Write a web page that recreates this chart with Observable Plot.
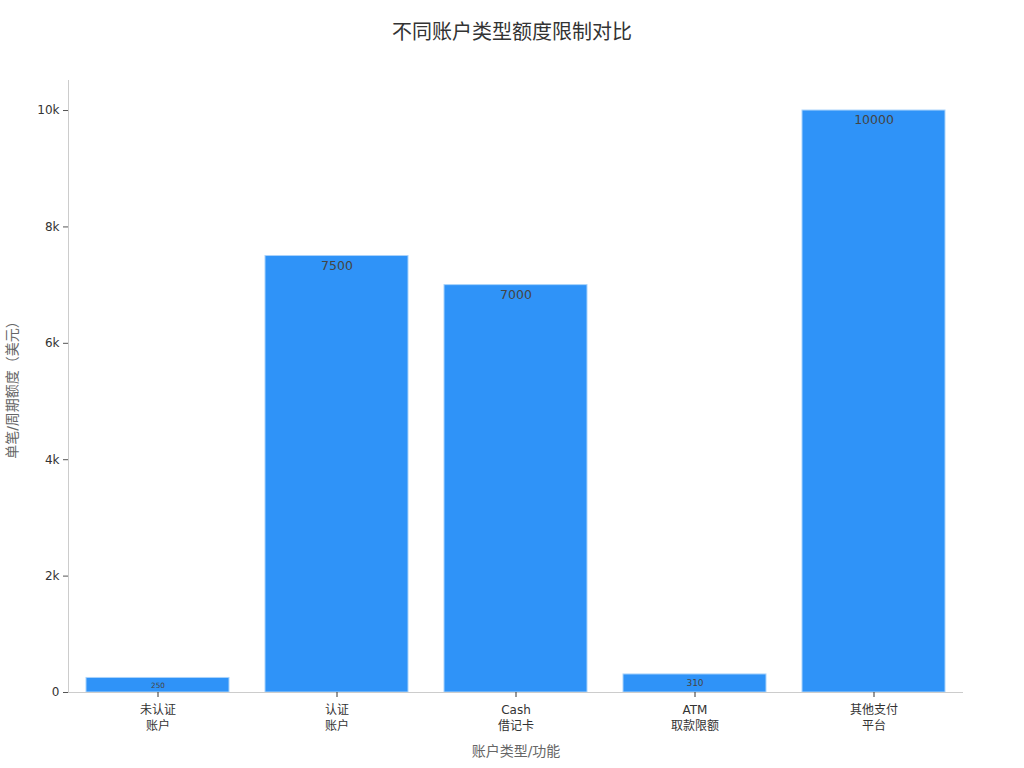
<!DOCTYPE html>
<html>
<head>
<meta charset="utf-8">
<script src="https://cdn.jsdelivr.net/npm/d3@7"></script>
<script src="https://cdn.jsdelivr.net/npm/@observablehq/plot@0.6"></script>
<style>
  html, body { margin: 0; padding: 0; background: #fff; }
  body { width: 1024px; height: 768px; overflow: hidden; font-family: "DejaVu Sans", "Noto Sans CJK SC", sans-serif; }
  #title { height: 61px; line-height: 64px; text-align: center; font-size: 20px; color: #333; font-family: "DejaVu Sans", "Noto Sans CJK SC", sans-serif; }
</style>
</head>
<body>
<div id="title">不同账户类型额度限制对比</div>
<div id="chart"></div>
<script>
const categories = ["未认证\n账户", "认证\n账户", "Cash\n借记卡", "ATM\n取款限额", "其他支付\n平台"];
const values = [250, 7500, 7000, 310, 10000];
const yTicks = [0, 2000, 4000, 6000, 8000, 10000];

const data = categories.map((c, i) => ({category: c, value: values[i]}));
const H = 707;
const mTop = 19, mBottom = 76;
const pxPerUnit = (H - mTop - mBottom) / 10516;

const chart = Plot.plot({
  width: 1024,
  height: H,
  marginTop: mTop,
  marginBottom: mBottom,
  marginLeft: 68,
  marginRight: 61,
  style: {fontFamily: "DejaVu Sans, Noto Sans CJK SC, sans-serif", fontSize: "12px", color: "#333"},
  x: {domain: categories, paddingInner: 0.2, paddingOuter: 0.1, label: null},
  y: {domain: [0, 10516], label: null},
  marks: [
    Plot.barY(data, {x: "category", y: "value", fill: "#2F93F8", stroke: "#A9D3FB", strokeWidth: 1}),
    Plot.text(data, {
      x: "category", y: "value", text: d => String(d.value),
      lineAnchor: "top", dy: 5, fill: "#444",
      fontSize: d => Math.min(12.5, d.value * pxPerUnit / 2)
    }),
    Plot.ruleY([0], {stroke: "#ccc"}),
    Plot.frame({anchor: "left", stroke: "#ccc"}),
    Plot.axisY({ticks: yTicks, tickFormat: d3.format("~s"), tickSize: 5, fontSize: 12, color: "#333", stroke: "#555", label: null}),
    Plot.axisX({tickSize: 5, fontSize: 12, color: "#333", label: null, tickPadding: 5, lineHeight: 1.35}),
    Plot.text(["单笔/周期额度（美元）"], {frameAnchor: "left", textAnchor: "middle", dx: -56, rotate: -90, fontSize: 14, fill: "#666"}),
    Plot.text(["账户类型/功能"], {frameAnchor: "bottom", textAnchor: "middle", dy: 63, fontSize: 14, fill: "#666"})
  ]
});
document.getElementById("chart").appendChild(chart);
</script>
</body>
</html>
